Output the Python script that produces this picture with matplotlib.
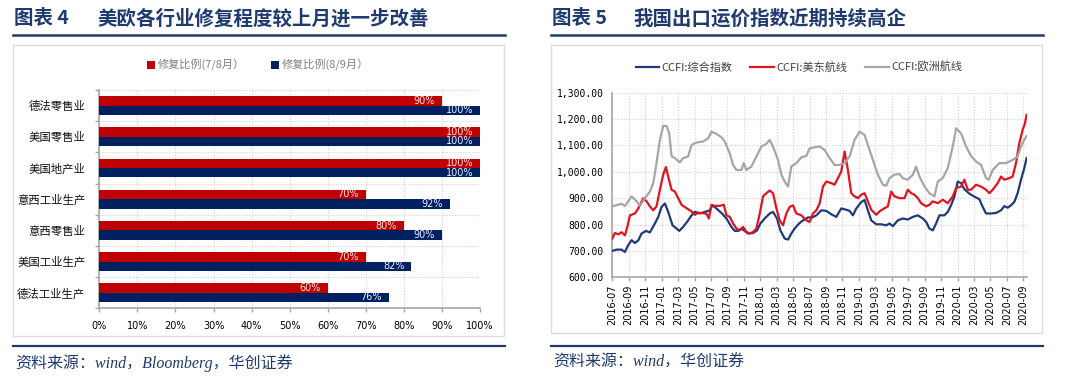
import matplotlib
matplotlib.use('Agg')
import matplotlib.pyplot as plt
from matplotlib.lines import Line2D
from matplotlib.patches import Rectangle
from matplotlib.ticker import FuncFormatter

plt.rcParams['font.family'] = ['Noto Sans CJK SC', 'DejaVu Sans']

# ---------------- data: left chart ----------------
categories = ['德法零售业', '美国零售业', '美国地产业', '意西工业生产',
              '意西零售业', '美国工业生产', '德法工业生产']
ratio_78 = [90, 100, 100, 70, 80, 70, 60]
ratio_89 = [100, 100, 100, 92, 90, 82, 76]
bar_series_names = ['修复比例(7/8月）', '修复比例(8/9月）']
pct_ticks = [0, 10, 20, 30, 40, 50, 60, 70, 80, 90, 100]

# ---------------- data: right chart (x = months since 2016-07) ----------------
month_ticks = ['2016-07', '2016-09', '2016-11', '2017-01', '2017-03', '2017-05',
               '2017-07', '2017-09', '2017-11', '2018-01', '2018-03', '2018-05',
               '2018-07', '2018-09', '2018-11', '2019-01', '2019-03', '2019-05',
               '2019-07', '2019-09', '2019-11', '2020-01', '2020-03', '2020-05',
               '2020-07', '2020-09']
line_names = ['CCFI:综合指数', 'CCFI:美东航线', 'CCFI:欧洲航线']

comp_t = [0.0, 0.53, 1.13, 1.54, 1.94, 2.35, 2.75, 3.16, 3.56, 4.09, 4.57, 5.18, 5.59,
          5.99, 6.40, 6.80, 7.33, 7.81, 8.14, 8.62, 9.23, 9.64, 10.04, 10.65, 11.26,
          11.86, 12.19, 12.67, 13.28, 13.89, 14.49, 14.90, 15.30, 15.71, 16.11, 16.52,
          17.13, 17.61, 18.02, 18.54, 19.15, 19.55, 20.04, 20.45, 20.97, 21.38, 21.78,
          22.19, 22.71, 23.20, 23.81, 24.33, 24.82, 25.43, 26.03, 26.64, 27.25, 27.85,
          28.38, 28.87, 29.27, 29.68, 30.28, 30.69, 31.09, 31.50, 32.11, 32.71, 33.32,
          33.72, 34.13, 34.74, 35.34, 35.95, 36.56, 37.17, 37.77, 38.18, 38.58, 38.99,
          39.39, 39.80, 40.40, 40.81, 41.21, 41.62, 42.02, 42.43, 42.83, 43.44, 44.05,
          44.66, 45.06, 45.47, 46.07, 46.68, 47.29, 47.69, 48.10, 48.50, 48.91, 49.31,
          49.72, 50.12, 50.40]
comp_v = [700, 705, 705, 696, 722, 741, 730, 740, 766, 776, 770, 804, 829,
          867, 880, 848, 797, 785, 776, 791, 816, 835, 848, 842, 848,
          854, 873, 861, 844, 823, 791, 776, 776, 785, 776, 766,
          768, 778, 804, 823, 842, 848, 823, 778, 747, 743, 766,
          785, 804, 816, 827, 827, 835, 854, 852, 839, 829, 861,
          857, 852, 835, 861, 885, 893, 854, 816, 801, 801, 797,
          804, 794, 816, 823, 819, 829, 835, 823, 810, 785, 778,
          804, 835, 835, 848, 873, 906, 963, 957, 934, 917, 906,
          896, 867, 842, 842, 844, 854, 870, 864, 873, 886, 919,
          970, 1014, 1052]

us_t = [0.0, 0.32, 0.73, 1.13, 1.54, 1.82, 2.15, 2.75, 3.16, 3.77, 4.17, 4.57, 4.98,
        5.38, 5.79, 6.19, 6.52, 6.80, 7.21, 7.61, 8.02, 8.42, 9.03, 9.64, 10.04, 10.45,
        11.05, 11.46, 11.74, 12.06, 12.47, 13.08, 13.56, 13.89, 14.29, 14.70, 15.10,
        15.51, 15.91, 16.32, 16.72, 17.13, 17.53, 17.94, 18.34, 18.74, 19.15, 19.55,
        19.96, 20.36, 20.77, 21.17, 21.58, 21.98, 22.39, 23.00, 23.60, 24.01, 24.41,
        24.82, 25.22, 25.63, 26.03, 26.64, 27.04, 27.45, 27.85, 28.26, 28.66, 29.07,
        29.47, 29.88, 30.28, 30.69, 31.09, 31.50, 32.11, 32.51, 33.12, 33.52, 33.93,
        34.33, 34.94, 35.55, 35.95, 36.36, 36.76, 37.17, 37.57, 38.18, 38.58, 38.99,
        39.60, 40.20, 40.81, 41.42, 41.82, 42.43, 42.83, 43.24, 43.64, 44.25, 44.86,
        45.47, 45.87, 46.28, 46.88, 47.29, 47.69, 48.30, 48.70, 49.11, 49.51, 49.92,
        50.20, 50.40]
us_v = [747, 768, 763, 771, 759, 791, 835, 842, 861, 900, 888, 869, 854,
        869, 932, 989, 1018, 982, 932, 925, 900, 875, 862, 850, 837, 845,
        843, 841, 823, 875, 871, 871, 875, 835, 829, 804, 785,
        778, 791, 772, 766, 772, 785, 842, 907, 919, 929, 919,
        862, 816, 797, 842, 867, 873, 842, 835, 816, 810, 842,
        854, 880, 944, 963, 957, 951, 976, 1001, 1077, 1007, 919,
        907, 900, 913, 919, 888, 856, 837, 850, 862, 869, 925,
        907, 900, 900, 932, 919, 913, 900, 881, 869, 875, 888,
        881, 894, 881, 907, 938, 944, 970, 932, 932, 951, 944,
        932, 919, 932, 957, 982, 970, 976, 982, 1033, 1108, 1159,
        1184, 1216]

eu_t = [0.0, 1.13, 1.54, 2.35, 2.96, 3.36, 3.97, 4.57, 4.98, 5.38, 5.79, 6.19, 6.60,
        6.92, 7.21, 7.61, 8.22, 8.62, 9.23, 9.64, 10.24, 11.05, 11.66, 12.06, 12.67,
        13.28, 13.68, 14.29, 14.70, 15.10, 15.71, 15.99, 16.32, 16.92, 17.53, 18.14,
        18.74, 19.15, 19.55, 20.16, 20.57, 20.97, 21.38, 21.78, 22.39, 23.00, 23.60,
        24.01, 24.62, 25.22, 25.83, 26.44, 27.04, 27.65, 28.26, 28.87, 29.47, 30.08,
        30.69, 31.09, 31.70, 32.31, 32.91, 33.32, 33.72, 34.33, 34.94, 35.34, 35.95,
        36.56, 36.96, 37.37, 37.98, 38.58, 39.19, 39.60, 40.20, 40.81, 41.42, 41.82,
        42.43, 43.04, 43.64, 44.25, 44.86, 45.47, 45.79, 46.28, 47.09, 47.89, 48.70,
        49.31, 49.72, 50.12, 50.40]
eu_v = [869, 879, 870, 907, 888, 871, 900, 925, 957, 1033, 1121, 1174, 1174,
        1146, 1060, 1052, 1036, 1052, 1058, 1102, 1111, 1115, 1127, 1152, 1144,
        1131, 1115, 1070, 1026, 1007, 1007, 1033, 1007, 1020, 1058, 1096,
        1106, 1121, 1096, 1045, 989, 963, 944, 1020, 1033, 1055, 1060,
        1089, 1093, 1096, 1083, 1052, 1026, 1026, 1033, 1058, 1121, 1152,
        1140, 1102, 1045, 989, 951, 947, 976, 989, 992, 976, 970,
        989, 1020, 982, 944, 919, 907, 963, 976, 1014, 1096, 1165,
        1146, 1096, 1060, 1039, 1026, 976, 970, 1007, 1033, 1033, 1045,
        1058, 1096, 1121, 1136]

# ---------------- styling ----------------
W, H = 1080, 386
NAVY = '#1F3A6E'
RED_BAR = '#C00000'
BLUE_BAR = '#002060'
GRID = '#D0D0D0'
SPINE = '#A6A6A6'


def fx(px):
    return px / W


def fy(py):
    return 1 - py / H


fig = plt.figure(figsize=(W / 100, H / 100), dpi=100)

# ---------------- headers / footers ----------------
for x0, x1, num, title, src, tx in [
        (13, 505, '图表 4', '美欧各行业修复程度较上月进一步改善',
         '资料来源：wind，Bloomberg，华创证券', 97),
        (551, 1043, '图表 5', '我国出口运价指数近期持续高企',
         '资料来源：wind，华创证券', 633)]:
    fig.text(fx(x0 + 1), fy(19), num, fontsize=14, fontweight='bold', color=NAVY,
             va='center', ha='left')
    fig.text(fx(tx), fy(19), title, fontsize=14, fontweight='bold', color=NAVY,
             va='center', ha='left')
    fig.add_artist(Line2D([fx(x0), fx(x1)], [fy(34.5), fy(34.5)], color=NAVY,
                          lw=1.8, transform=fig.transFigure))
    fig.add_artist(Line2D([fx(x0), fx(x1)], [fy(346), fy(346)], color=NAVY,
                          lw=1.6, transform=fig.transFigure))
    fig.text(fx(x0 + 2), fy(363), src, fontsize=11.5, style='italic', color=NAVY,
             va='center', ha='left', family=['Liberation Serif', 'Noto Sans CJK SC'])

# panel frames
fig.add_artist(Rectangle((fx(13), fy(336)), fx(504) - fx(13), fy(45) - fy(336),
                         fill=False, edgecolor='#DCDCDC', lw=1.0,
                         transform=fig.transFigure))
fig.add_artist(Rectangle((fx(551), fy(333)), fx(1042) - fx(551), fy(45) - fy(333),
                         fill=False, edgecolor='#DCDCDC', lw=1.0,
                         transform=fig.transFigure))

# ---------------- left: horizontal bar chart ----------------
ax1 = fig.add_axes([fx(99.3), fy(308.3), fx(480) - fx(99.3), fy(90) - fy(308.3)])
n = len(categories)
pos = list(range(n))
bh = 0.3
ax1.barh([p - bh / 2 for p in pos], ratio_78, height=bh, color=RED_BAR, zorder=3,
         label=bar_series_names[0])
ax1.barh([p + bh / 2 for p in pos], ratio_89, height=bh, color=BLUE_BAR, zorder=3,
         label=bar_series_names[1])
for p, v in zip(pos, ratio_78):
    ax1.annotate(f'{v}%', xy=(v, p - bh / 2), xytext=(-5, 0), textcoords='offset points',
                 ha='right', va='center', color='#FFE8E8', fontsize=7,
                 family='DejaVu Sans', zorder=4)
for p, v in zip(pos, ratio_89):
    ax1.annotate(f'{v}%', xy=(v, p + bh / 2), xytext=(-5, 0), textcoords='offset points',
                 ha='right', va='center', color='#E8EEFF', fontsize=7,
                 family='DejaVu Sans', zorder=4)
ax1.set_xlim(0, 100)
ax1.set_ylim(n - 0.5, -0.5)
ax1.set_xticks(pct_ticks)
ax1.set_xticklabels([f'{t}%' for t in pct_ticks], fontsize=7, family='DejaVu Sans')
ax1.set_yticks(pos)
ax1.set_yticklabels(categories, fontsize=8.2, color='#111111')
ax1.set_yticks([p - 0.5 for p in pos] + [n - 0.5], minor=True)
ax1.tick_params(axis='y', which='major', length=0, pad=10)
ax1.tick_params(axis='y', which='minor', length=3, color=SPINE, width=1)
ax1.tick_params(axis='x', length=3, color=SPINE, width=1, pad=6)
ax1.grid(axis='x', which='major', linestyle=(0, (1, 1.5)), color=GRID, lw=0.8, zorder=0)
ax1.grid(axis='y', which='minor', linestyle=(0, (1, 1.5)), color=GRID, lw=0.8, zorder=0)
for s in ['top', 'right']:
    ax1.spines[s].set_visible(False)
for s in ['left', 'bottom']:
    ax1.spines[s].set_color(SPINE)
    ax1.spines[s].set_linewidth(1.2)
h1, l1 = ax1.get_legend_handles_labels()
fig.legend(h1, l1, loc='center', bbox_to_anchor=(fx(258), fy(65)), ncol=2,
           frameon=False, fontsize=8, handlelength=0.7, handleheight=0.7,
           handletextpad=0.2, columnspacing=2.4, labelcolor='#808080')

# ---------------- right: line chart ----------------
ax2 = fig.add_axes([fx(612.3), fy(277.3), fx(1027) - fx(612.3), fy(92.7) - fy(277.3)])
lb, = ax2.plot(comp_t, comp_v, color='#1F3A78', lw=1.6, label=line_names[0], zorder=3)
lr, = ax2.plot(us_t, us_v, color='#E0141E', lw=1.6, label=line_names[1], zorder=3)
lg, = ax2.plot(eu_t, eu_v, color='#A6A6A6', lw=1.6, label=line_names[2], zorder=3)
ax2.set_xlim(0, 50.45)
ax2.set_ylim(600, 1300)
ax2.set_yticks(range(600, 1301, 100))
ax2.yaxis.set_major_formatter(FuncFormatter(lambda v, _: f'{v:,.2f}'))
for lab in ax2.get_yticklabels():
    lab.set_fontfamily('DejaVu Sans Mono')
    lab.set_fontsize(7)
xt = [2 * i for i in range(len(month_ticks))]
ax2.set_xticks(xt)
ax2.set_xticklabels(month_ticks, rotation=90, fontsize=7, family='DejaVu Sans')
ax2.tick_params(axis='x', length=3, color=SPINE, width=1, pad=2)
ax2.tick_params(axis='y', length=0, pad=6)
ax2.grid(True, linestyle=(0, (1, 1.5)), color=GRID, lw=0.8, zorder=0)
for s in ['top', 'right']:
    ax2.spines[s].set_visible(False)
for s in ['left', 'bottom']:
    ax2.spines[s].set_color(SPINE)
    ax2.spines[s].set_linewidth(1.2)
fig.legend([lb, lr, lg], line_names, loc='center', bbox_to_anchor=(fx(799), fy(67)),
           ncol=3, frameon=False, fontsize=8, handlelength=2.1, handletextpad=0.25,
           columnspacing=1.6, labelcolor='#404040')

fig.savefig('out.png', dpi=100)
